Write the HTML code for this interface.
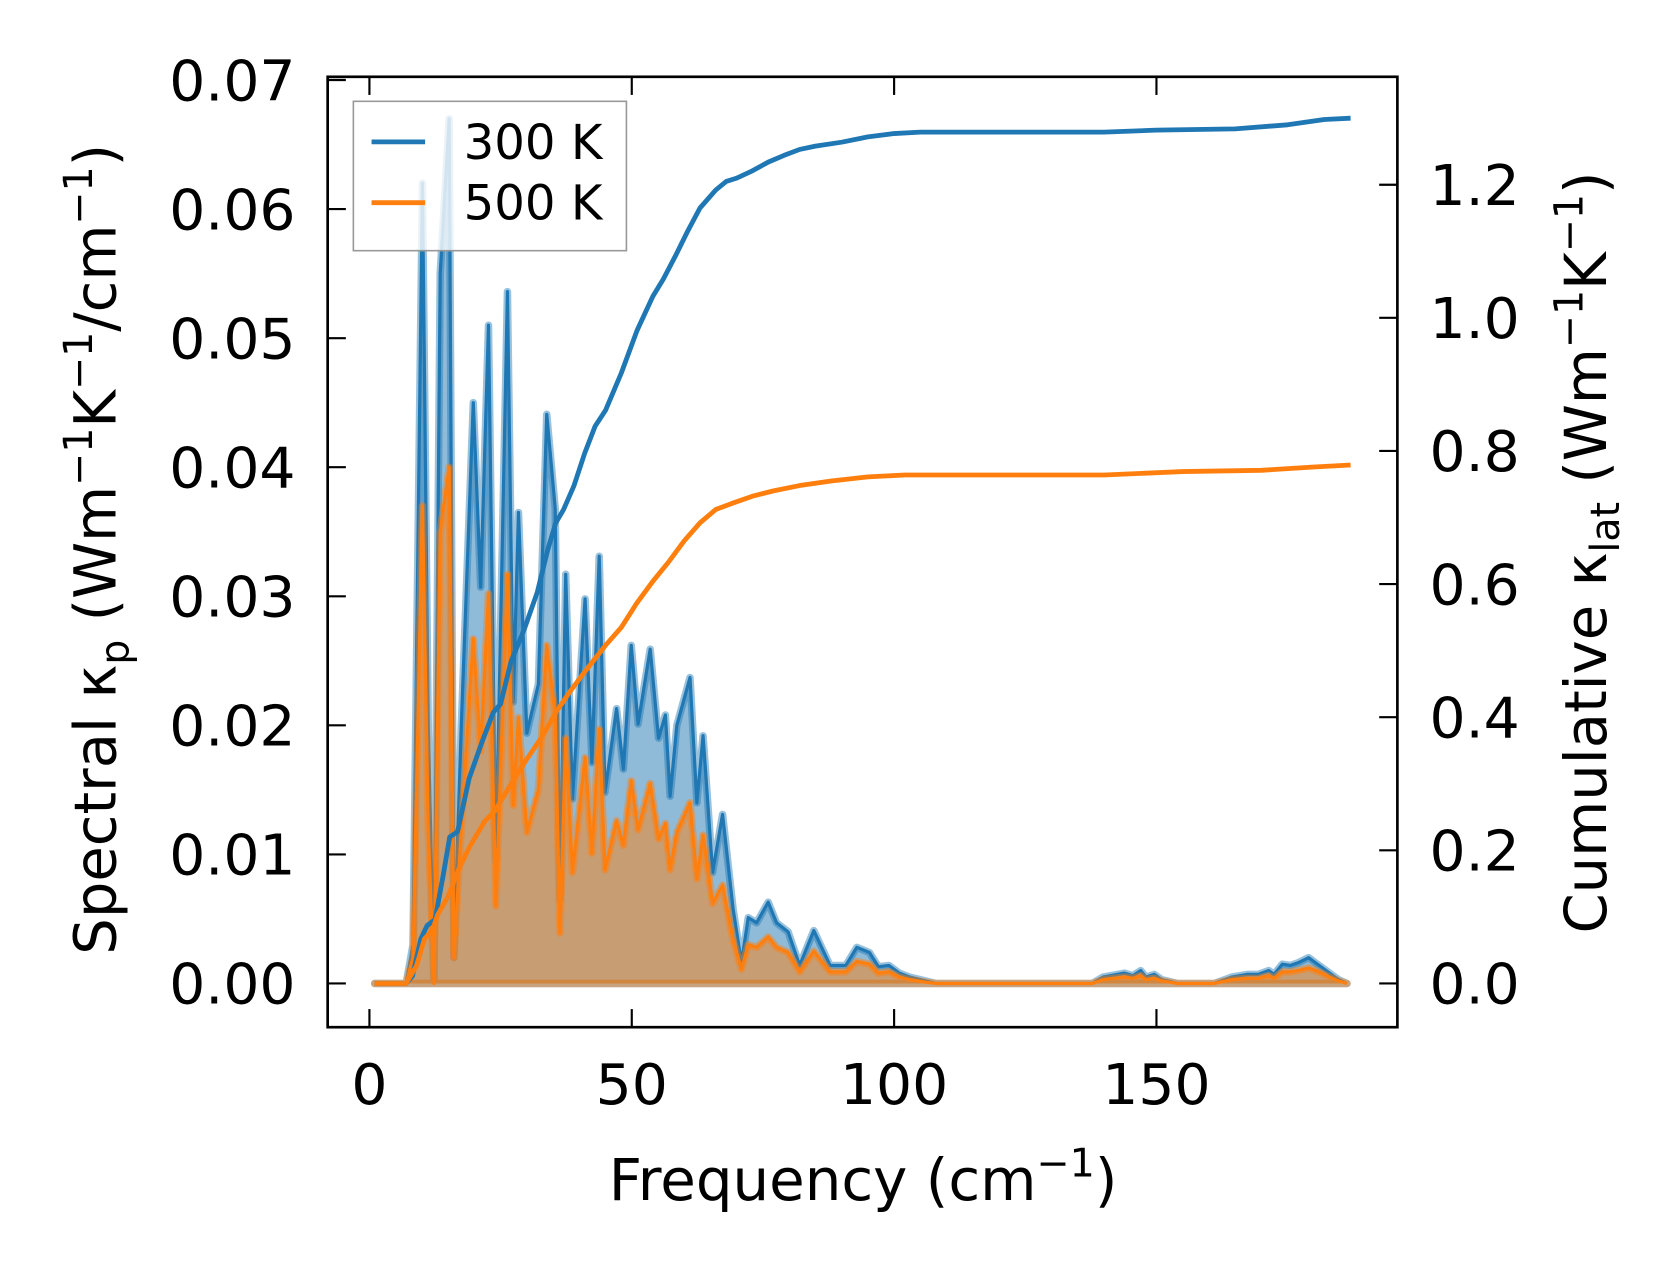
<!DOCTYPE html>
<html><head><meta charset="utf-8"><style>
html,body{margin:0;padding:0;background:#fff;}
svg{display:block;}
text{font-family:"DejaVu Sans","Liberation Sans",sans-serif;fill:#000;}
</style></head><body>
<svg id="chart" width="1679" height="1280" viewBox="0 0 1568 1200" preserveAspectRatio="none" xmlns="http://www.w3.org/2000/svg">
<g id="marks"></g>
<rect x="306" y="72" width="999" height="891" fill="none" stroke="#000" stroke-width="2.5"/>
<g id="axes"></g>
<text x="806" y="1125" font-size="54" text-anchor="middle">Frequency (cm<tspan font-size="37" dy="-22">−1</tspan><tspan dy="22">)</tspan></text>
<text transform="translate(108,515) rotate(-90)" font-size="54" text-anchor="middle">Spectral κ<tspan font-size="37" dy="12">p</tspan><tspan dy="-12"> (Wm</tspan><tspan font-size="37" dy="-22">−1</tspan><tspan dy="22">K</tspan><tspan font-size="37" dy="-22">−1</tspan><tspan dy="22">/cm</tspan><tspan font-size="37" dy="-22">−1</tspan><tspan dy="22">)</tspan></text>
<text transform="translate(1500,518) rotate(-90)" font-size="54" text-anchor="middle">Cumulative κ<tspan font-size="37" dy="12">lat</tspan><tspan dy="-12"> (Wm</tspan><tspan font-size="37" dy="-22">−1</tspan><tspan dy="22">K</tspan><tspan font-size="37" dy="-22">−1</tspan><tspan dy="22">)</tspan></text>
<g>
<rect x="330" y="95" width="255" height="140" fill="#fff" fill-opacity="0.8" stroke="#999" stroke-width="1.5"/>
<line x1="347" y1="133" x2="397" y2="133" stroke="#1f77b4" stroke-width="4.5"/>
<text x="433" y="149" font-size="45">300 K</text>
<line x1="347" y1="190" x2="397" y2="190" stroke="#ff7f0e" stroke-width="4.5"/>
<text x="433" y="206" font-size="45">500 K</text>
</g>
</svg>
<script>
const freqs=[1,7,8.3,10.1,11.2,12.3,13.5,15.2,16.1,17.5,19.8,21.2,22.7,24.1,26.3,27.4,28.4,30,32.2,33.8,35.4,36.3,37.4,38.7,41.1,42.4,43.8,44.9,47.1,48.4,49.9,51.2,53.5,55.1,56.4,57.3,58.6,61.1,62.4,63.6,65.4,67.3,69.3,70.9,72.2,73.8,76,77.6,79.8,82,84.7,87.8,90.8,92.9,95.3,97,99,101,103,106,108,137.8,139.8,143.9,145.5,147,148,149.6,151,154,161,164.3,167.3,169.4,171.4,172.4,174,175.5,177,179,181,183,184.7,186.3];
const k300=[0,0,0.003,0.062,0.02,0,0.055,0.067,0.002,0.02,0.045,0.0307,0.051,0.0096,0.0536,0.0218,0.0365,0.0194,0.0232,0.0441,0.0368,0.0065,0.0317,0.0143,0.0298,0.0171,0.0331,0.0148,0.0213,0.0166,0.0262,0.0201,0.0259,0.019,0.0208,0.0145,0.02,0.0237,0.014,0.0192,0.0086,0.0131,0.0058,0.0016,0.0051,0.0047,0.0063,0.0047,0.004,0.0014,0.0041,0.0014,0.0014,0.0028,0.0024,0.0013,0.0014,0.0008,0.0005,0.0002,0,0,0.0005,0.0008,0.0006,0.001,0.0005,0.0007,0.0003,0,0,0.0005,0.0007,0.0007,0.001,0.0007,0.0015,0.0014,0.0016,0.002,0.0014,0.0008,0.0003,0];
const k500=[0,0,0.002,0.037,0.012,0,0.035,0.040,0.002,0.012,0.0267,0.018,0.0302,0.006,0.0317,0.0138,0.0206,0.0117,0.015,0.0262,0.0208,0.0039,0.019,0.0086,0.0175,0.0101,0.0197,0.0088,0.0126,0.0107,0.0157,0.0119,0.0155,0.0112,0.0124,0.0088,0.0117,0.014,0.0081,0.0115,0.0062,0.0076,0.0034,0.0011,0.003,0.0028,0.0036,0.0028,0.0024,0.0009,0.0025,0.0009,0.0009,0.0017,0.0015,0.0008,0.0009,0.0005,0.0003,0.0001,0,0,0.0003,0.0005,0.0004,0.0006,0.0003,0.0004,0.0002,0,0,0.0003,0.0004,0.0004,0.0006,0.0004,0.0009,0.0009,0.001,0.0012,0.0009,0.0005,0.0002,0];
const cumFreq300=[1,7,8.2,9.8,11,12.5,14,15.3,16.8,19,21.5,23.6,25,27,29.5,32,34,35.5,37,39,41,43,45,48,51,54,56,58.5,60.5,63,66,68,70,73,76,79,82,85,90,95,100,105,110,140,150,165,175,182,187];
const cum300=[0,0,0.011,0.067,0.087,0.096,0.16,0.22,0.228,0.308,0.364,0.407,0.42,0.484,0.532,0.588,0.652,0.692,0.712,0.748,0.796,0.837,0.861,0.917,0.981,1.032,1.058,1.096,1.128,1.165,1.192,1.205,1.21,1.221,1.234,1.244,1.253,1.258,1.264,1.272,1.277,1.279,1.279,1.279,1.282,1.284,1.29,1.298,1.3];
const cumFreq500=[1,7,9,10.5,12,13,15,17,19,22,24,27,30,33,35.5,38,41,45,48,51,54,57,60,63,66,69,73,77,82,88,95,102,140,155,170,180,187];
const cum500=[0,0,0.027,0.067,0.08,0.103,0.131,0.171,0.204,0.244,0.26,0.3,0.337,0.372,0.407,0.436,0.468,0.508,0.535,0.572,0.604,0.633,0.665,0.692,0.712,0.721,0.732,0.74,0.748,0.755,0.761,0.764,0.764,0.769,0.771,0.776,0.779];
const xTicks=[0,50,100,150];
const yLeftTicks=[0,0.01,0.02,0.03,0.04,0.05,0.06,0.07];
const yLeftLabels=["0.00","0.01","0.02","0.03","0.04","0.05","0.06","0.07"];
const yRightTicks=[0,0.2,0.4,0.6,0.8,1.0,1.2];
const yRightLabels=["0.0","0.2","0.4","0.6","0.8","1.0","1.2"];

const NS="http://www.w3.org/2000/svg";
const xS=f=>345+f*4.9;
const yL=v=>922-v*12100;
const yR=v=>922-v*624;
const marks=document.getElementById('marks');
const axes=document.getElementById('axes');
function mk(tag,attrs,parent){const e=document.createElementNS(NS,tag);for(const k in attrs)e.setAttribute(k,attrs[k]);parent.appendChild(e);return e;}
function pts(xs,ys,yf){return xs.map((f,i)=>xS(f).toFixed(1)+','+yf(ys[i]).toFixed(1)).join(' ');}
function areaPts(xs,ys){return xS(xs[0])+','+yL(0)+' '+pts(xs,ys,yL)+' '+xS(xs[xs.length-1])+','+yL(0);}

let e;
e=mk('polygon',{points:areaPts(freqs,k300),fill:'#1f77b4','fill-opacity':0.5,stroke:'#1f77b4','stroke-opacity':0.45,'stroke-width':7,'stroke-linejoin':'round'},marks);


e=mk('polyline',{points:pts(freqs,k300,yL),fill:'none',stroke:'#1f77b4','stroke-width':3,'stroke-linejoin':'round'},marks);


e=mk('polygon',{points:areaPts(freqs,k500),fill:'#ff7f0e','fill-opacity':0.5,stroke:'#ff7f0e','stroke-opacity':0.45,'stroke-width':7,'stroke-linejoin':'round'},marks);


e=mk('polyline',{points:pts(freqs,k500,yL),fill:'none',stroke:'#ff7f0e','stroke-width':3,'stroke-linejoin':'round'},marks);


e=mk('polyline',{points:pts(cumFreq300,cum300,yR),fill:'none',stroke:'#1f77b4','stroke-width':4.5,'stroke-linejoin':'round'},marks);


e=mk('polyline',{points:pts(cumFreq500,cum500,yR),fill:'none',stroke:'#ff7f0e','stroke-width':4.5,'stroke-linejoin':'round'},marks);



xTicks.forEach(t=>{
  const x=xS(t);
  e=mk('line',{x1:x,y1:963,x2:x,y2:946,stroke:'#000','stroke-width':2},axes);
  
  
  e=mk('line',{x1:x,y1:72,x2:x,y2:89,stroke:'#000','stroke-width':2},axes);
  
  
  e=mk('text',{x:x,y:1035,'font-size':53,'text-anchor':'middle'},axes);
  e.textContent=String(t);
  
  
});
yLeftTicks.forEach((t,i)=>{
  const y=yL(t);
  e=mk('line',{x1:306,y1:y,x2:323,y2:y,stroke:'#000','stroke-width':2},axes);
  
  
  e=mk('text',{x:276,y:y+19,'font-size':53,'text-anchor':'end'},axes);
  e.textContent=yLeftLabels[i];
  
  
});
yRightTicks.forEach((t,i)=>{
  const y=yR(t);
  e=mk('line',{x1:1288,y1:y,x2:1305,y2:y,stroke:'#000','stroke-width':2},axes);
  
  
  e=mk('text',{x:1335,y:y+19,'font-size':53,'text-anchor':'start'},axes);
  e.textContent=yRightLabels[i];
  
  
});
</script>
</body></html>
